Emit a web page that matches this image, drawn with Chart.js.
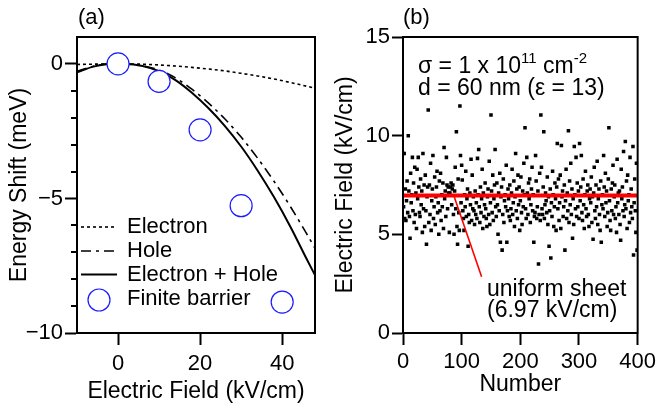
<!DOCTYPE html>
<html><head><meta charset="utf-8">
<script src="https://cdn.jsdelivr.net/npm/chart.js@4.4.0/dist/chart.umd.min.js"></script>
<style>
html,body{margin:0;padding:0;background:#fff;}
#wrap{position:relative;width:660px;height:403px;overflow:hidden;}
.c{position:absolute;top:0;width:330px;height:403px;}
</style></head><body>
<div id="wrap">
<div class="c" style="left:0"><canvas id="ca" width="330" height="403"></canvas></div>
<div class="c" style="left:330px"><canvas id="cb" width="330" height="403"></canvas></div>
</div>
<script>
// ---------- Panel (a) data ----------
const fieldA        = [-10, -6, -2, 2, 6, 10, 14, 18, 22, 26, 30, 34, 38, 42, 46, 48];
const electronShift = [-0.02, -0.01, 0, 0, -0.01, -0.04, -0.08, -0.13, -0.19, -0.26, -0.35, -0.45, -0.56, -0.69, -0.83, -0.9];
const holeShift     = [-0.27, -0.09, 0, 0, -0.07, -0.23, -0.52, -0.94, -1.45, -2.04, -2.72, -3.5, -4.36, -5.3, -6.32, -6.85];
const totalShift    = [-0.31, -0.1, 0, 0, -0.08, -0.27, -0.6, -1.07, -1.64, -2.3, -3.07, -3.96, -4.95, -6.05, -7.26, -7.85];
const barrierField  = [0, 10, 20, 30, 40];
const barrierShift  = [0, -0.65, -2.45, -5.27, -8.85];
const xTicksA = [0, 20, 40];
const yTicksA = [-10, -5, 0];
const yMinorA = [-9, -8, -7, -6, -4, -3, -2, -1];
const legendA = ['Electron', 'Hole', 'Electron + Hole', 'Finite barrier'];

// ---------- Panel (b) data ----------
const fieldB = [
 9.1, 6.4, 9.1, 5.8, 7.3, 5.7, 6.7, 7.7, 6.1, 10.0, 7.2, 5.9, 4.8, 8.1, 6.6, 7.0, 8.9, 6.2, 7.6, 5.6,
 8.4, 6.0, 7.1, 5.3, 8.3, 6.8, 8.9, 7.4, 6.1, 5.9, 7.8, 6.5, 7.2, 5.1, 9.1, 6.3, 7.5, 5.4, 8.0, 6.2,
 4.5, 6.9, 7.4, 11.3, 5.6, 7.5, 6.0, 8.6, 5.2, 6.7, 7.3, 9.0, 5.8, 6.4, 7.9, 5.5, 6.9, 7.4, 8.2, 6.1,
 6.6, 5.0, 7.7, 6.2, 8.1, 5.7, 7.0, 6.4, 7.6, 5.3, 9.4, 6.8, 7.2, 5.9, 8.9, 7.5, 6.3, 7.4, 7.1, 5.1,
 7.1, 7.4, 7.6, 6.5, 7.3, 7.5, 6.0, 5.0, 7.2, 8.4, 6.3, 10.2, 5.4, 4.5, 7.8, 6.1, 5.2, 11.5, 9.0, 6.6,
 8.5, 7.75, 6.2, 5.8, 5.2, 7.0, 6.4, 8.2, 5.9, 6.8, 7.3, 4.4, 6.0, 5.6, 7.1, 6.5, 8.8, 5.7, 8.0, 6.3,
 6.9, 6.2, 5.5, 7.2, 6.0, 6.6, 5.8, 8.85, 7.0, 9.3, 6.4, 5.6, 7.4, 6.1, 6.8, 8.3, 5.3, 7.1, 5.9, 6.5,
 7.6, 6.3, 5.8, 5.4, 6.9, 7.3, 6.0, 8.7, 5.5, 6.6, 11.05, 7.2, 6.1, 8.0, 5.7, 6.8, 7.5, 9.3, 6.4, 5.9,
 7.6, 6.5, 5.0, 7.1, 6.2, 8.1, 4.6, 6.9, 7.4, 4.2, 6.0, 7.8, 5.6, 6.7, 7.0, 6.4, 8.5, 4.6, 6.2, 7.3,
 6.8, 5.9, 7.5, 5.7, 6.3, 7.1, 8.3, 6.0, 6.6, 7.7, 5.4, 6.9, 9.1, 6.2, 7.3, 5.8, 8.0, 6.5, 7.4, 5.2,
 6.7, 7.9, 6.1, 5.5, 7.2, 6.4, 8.6, 7.0, 10.4, 6.3, 5.8, 8.9, 7.1, 6.0, 7.6, 6.8, 7.8, 5.6, 6.5, 7.3,
 8.4, 6.2, 7.0, 4.6, 5.9, 6.1, 9.0, 7.7, 5.8, 6.4, 7.2, 3.5, 6.0, 8.1, 5.7, 11.05, 8.4, 6.3, 6.0, 7.4,
 10.2, 5.8, 6.5, 7.1, 6.7, 6.1, 7.9, 5.5, 6.9, 4.4, 6.2, 7.3, 3.8, 6.6, 5.9, 8.2, 7.0, 5.4, 6.4, 7.6,
 6.8, 5.2, 7.4, 9.6, 6.3, 7.8, 5.7, 6.6, 8.0, 5.3, 9.5, 6.9, 7.2, 5.9, 6.4, 7.5, 4.2, 6.7, 8.3, 5.8,
 7.1, 6.2, 10.25, 5.6, 7.7, 6.5, 8.6, 6.0, 7.3, 4.8, 6.8, 5.5, 9.45, 7.0, 6.3, 8.9, 5.9, 7.6, 6.4, 7.2,
 5.8, 9.6, 6.7, 7.4, 9.0, 6.1, 5.7, 7.8, 6.5, 5.3, 7.0, 8.2, 6.3, 5.9, 7.2, 7.5, 6.0, 5.4, 6.8, 7.3,
 6.6, 7.9, 5.6, 6.9, 4.75, 7.1, 8.4, 6.2, 5.8, 7.5, 6.4, 8.7, 5.5, 6.8, 7.3, 6.0, 5.2, 7.7, 4.6, 6.5,
 7.0, 6.3, 9.0, 7.4, 5.9, 8.1, 6.6, 7.2, 5.4, 6.1, 7.8, 10.4, 6.7, 5.7, 5.2, 7.3, 6.2, 7.6, 8.5, 6.0,
 6.9, 7.5, 5.8, 6.4, 5.1, 8.8, 6.6, 7.1, 6.0, 7.2, 5.5, 4.7, 8.3, 6.8, 7.4, 6.2, 9.2, 5.9, 6.5, 9.7,
 6.3, 7.7, 5.3, 8.0, 6.7, 7.0, 5.6, 8.9, 6.1, 7.3, 6.4, 5.8, 9.45, 3.95, 6.6, 7.8, 6.2, 5.1, 8.6, 4.2
];
const sampleNumber = fieldB.map((_, i) => i);
const sheetRange = [0, 400];
const sheetField = 6.97;
const pointerNumber = [87, 134];
const pointerField = [6.93, 2.85];
const xTicksB = [0, 100, 200, 300, 400];
const yTicksB = [0, 5, 10, 15];

// ---------- common ----------
const FONT = '"Liberation Sans", Arial, Helvetica, sans-serif';
Chart.defaults.font.family = FONT;
Chart.defaults.color = '#000';
const pts = (xs, ys) => xs.map((x, i) => ({x: x, y: ys[i]}));
const setTicks = arr => (s => { s.ticks = arr.map(v => ({value: v})); });
const minusLabel = v => String(v).replace('-', '\u2212');

function axis(opts) {
  return Object.assign({
    type: 'linear',
    grid: {display: true, drawOnChartArea: false, drawTicks: true, tickLength: 12, tickWidth: 2, tickColor: '#000'},
    border: {display: true, color: '#000', width: 2},
  }, opts);
}

const framePlugin = {
  id: 'frame',
  afterDatasetsDraw(chart) {
    const {ctx, chartArea: {left, right, top, bottom}} = chart;
    ctx.save();
    ctx.strokeStyle = '#000';
    ctx.lineWidth = 2;
    ctx.strokeRect(left, top, right - left, bottom - top);
    ctx.restore();
  }
};

// ---------- Chart (a) ----------
const annotA = {
  id: 'annotA',
  afterDraw(chart) {
    const ctx = chart.ctx;
    const ys = chart.scales.y;
    ctx.save();
    // minor ticks
    ctx.strokeStyle = '#000'; ctx.lineWidth = 2;
    yMinorA.forEach(v => {
      const py = Math.round(ys.getPixelForValue(v));
      ctx.beginPath(); ctx.moveTo(ys.right - 6, py); ctx.lineTo(ys.right, py); ctx.stroke();
    });
    // panel label
    ctx.fillStyle = '#000';
    ctx.font = '22px ' + FONT;
    ctx.textBaseline = 'alphabetic';
    ctx.fillText('(a)', 78, 24);
    // legend
    const rows = [227, 251, 274.5, 300];
    const bases = [233, 257, 281, 305];
    ctx.lineWidth = 1.6;
    ctx.setLineDash([3, 3]);
    ctx.beginPath(); ctx.moveTo(81, rows[0]); ctx.lineTo(117, rows[0]); ctx.stroke();
    ctx.setLineDash([10, 5, 3, 5]);
    ctx.beginPath(); ctx.moveTo(81, rows[1]); ctx.lineTo(117, rows[1]); ctx.stroke();
    ctx.setLineDash([]);
    ctx.lineWidth = 2;
    ctx.beginPath(); ctx.moveTo(81, rows[2]); ctx.lineTo(117, rows[2]); ctx.stroke();
    ctx.strokeStyle = '#1a1aff'; ctx.lineWidth = 1.2;
    ctx.beginPath(); ctx.arc(99, rows[3], 11, 0, Math.PI * 2); ctx.stroke();
    ctx.font = '22px ' + FONT;
    legendA.forEach((t, i) => ctx.fillText(t, 127, bases[i]));
    ctx.restore();
  }
};

new Chart(document.getElementById('ca'), {
  type: 'scatter',
  data: {
    datasets: [
      {label: legendA[3], data: pts(barrierField, barrierShift), showLine: false,
       pointStyle: 'circle', pointRadius: 11, pointBorderWidth: 1.2,
       pointBorderColor: '#1a1aff', pointBackgroundColor: '#ffffff'},
      {label: legendA[2], data: pts(fieldA, totalShift), showLine: true, pointRadius: 0,
       borderColor: '#000', borderWidth: 2, cubicInterpolationMode: 'monotone'},
      {label: legendA[1], data: pts(fieldA, holeShift), showLine: true, pointRadius: 0,
       borderColor: '#000', borderWidth: 1.6, borderDash: [10, 5, 3, 5], cubicInterpolationMode: 'monotone'},
      {label: legendA[0], data: pts(fieldA, electronShift), showLine: true, pointRadius: 0,
       borderColor: '#000', borderWidth: 1.6, borderDash: [3, 3], cubicInterpolationMode: 'monotone'}
    ]
  },
  options: {
    responsive: false, animation: false, devicePixelRatio: 1,
    layout: {padding: {top: 37, right: 15, bottom: 0, left: 0}},
    plugins: {legend: {display: false}, tooltip: {enabled: false}},
    scales: {
      x: axis({min: -10, max: 48, afterBuildTicks: setTicks(xTicksA), afterFit: s => { s.height = 70; },
        ticks: {font: {size: 22}, padding: 6, maxRotation: 0, color: '#000', callback: minusLabel},
        title: {display: true, text: 'Electric Field (kV/cm)', font: {size: 23, lineHeight: 1}, padding: {top: 0, bottom: 0}, color: '#000'}}),
      y: axis({min: -10, max: 1, afterBuildTicks: setTicks(yTicksA), afterFit: s => { s.width = 77; },
        ticks: {font: {size: 22}, padding: 2, color: '#000', callback: minusLabel},
        title: {display: true, text: 'Energy Shift (meV)', font: {size: 23, lineHeight: 1}, padding: {top: 8, bottom: 0}, color: '#000'}})
    }
  },
  plugins: [framePlugin, annotA]
});

// ---------- Chart (b) ----------
const annotB = {
  id: 'annotB',
  afterDraw(chart) {
    const ctx = chart.ctx;
    ctx.save();
    ctx.fillStyle = '#000';
    ctx.textBaseline = 'alphabetic';
    ctx.font = '22px ' + FONT;
    ctx.fillText('(b)', 73, 24);
    // sigma line with superscripts
    let x = 88;
    const big = '23px ' + FONT, small = '15px ' + FONT;
    const parts = [['\u03C3 = 1 x 10', big, 73], ['11', small, 63], [' cm', big, 73], ['-2', small, 63]];
    parts.forEach(p => { ctx.font = p[1]; ctx.fillText(p[0], x, p[2]); x += ctx.measureText(p[0]).width; });
    ctx.font = big;
    ctx.fillText('d = 60 nm (\u03B5 = 13)', 88, 95);
    ctx.fillText('uniform sheet', 157, 296);
    ctx.fillText('(6.97 kV/cm)', 157, 317);
    ctx.restore();
  }
};

new Chart(document.getElementById('cb'), {
  type: 'scatter',
  data: {
    datasets: [
      {label: 'pointer', data: pts(pointerNumber, pointerField), showLine: true, pointRadius: 0,
       borderColor: '#ff0000', borderWidth: 1.6},
      {label: 'uniform sheet', data: pts(sheetRange, [sheetField, sheetField]), showLine: true, pointRadius: 0,
       borderColor: '#ff0000', borderWidth: 4},
      {label: 'field', data: pts(sampleNumber, fieldB), showLine: false,
       pointStyle: 'rect', pointRadius: 2.5, pointBorderWidth: 0,
       pointBackgroundColor: '#000', pointBorderColor: '#000'}
    ]
  },
  options: {
    responsive: false, animation: false, devicePixelRatio: 1,
    layout: {padding: {top: 37, right: 19, bottom: 0, left: 0}},
    plugins: {legend: {display: false}, tooltip: {enabled: false}},
    scales: {
      x: axis({min: 0, max: 400, afterBuildTicks: setTicks(xTicksB), afterFit: s => { s.height = 70; },
        ticks: {font: {size: 22}, padding: 4, maxRotation: 0, color: '#000'},
        title: {display: true, text: 'Number', font: {size: 23, lineHeight: 1}, padding: {top: 0, bottom: 7}, color: '#000'}}),
      y: axis({min: 0, max: 15, afterBuildTicks: setTicks(yTicksB), afterFit: s => { s.width = 73; },
        grid: {display: true, drawOnChartArea: false, drawTicks: true, tickLength: 11, tickWidth: 2, tickColor: '#000'},
        ticks: {font: {size: 22}, padding: 2, color: '#000'},
        title: {display: true, text: 'Electric Field (kV/cm)', font: {size: 23, lineHeight: 1}, padding: {top: 4, bottom: 0}, color: '#000'}})
    }
  },
  plugins: [framePlugin, annotB]
});
</script>
</body></html>
